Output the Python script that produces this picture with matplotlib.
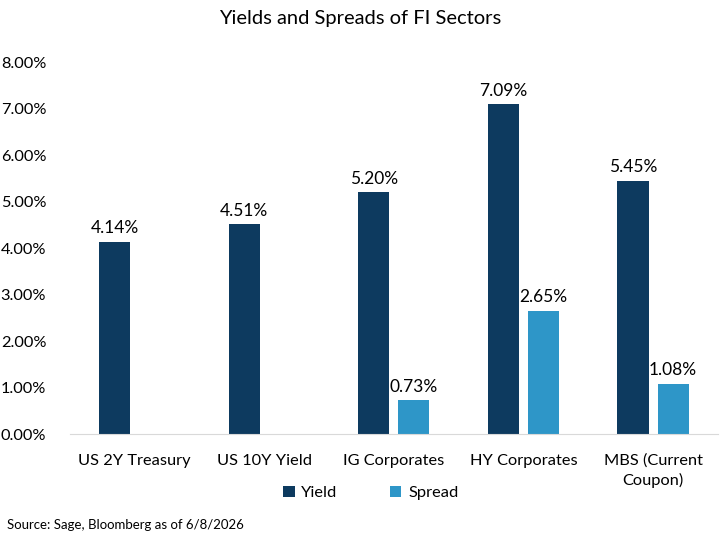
import numpy as np
import matplotlib.pyplot as plt

plt.rcParams['font.family'] = ['Lato', 'DejaVu Sans']

categories = ['US 2Y Treasury', 'US 10Y Yield', 'IG Corporates', 'HY Corporates', 'MBS (Current\nCoupon)']
yields = [4.14, 4.51, 5.20, 7.09, 5.45]
spreads = [np.nan, np.nan, 0.73, 2.65, 1.08]
yticks = [0, 1, 2, 3, 4, 5, 6, 7, 8]

navy = '#0D3A5F'
blue = '#2E96C8'

fig = plt.figure(figsize=(7.2, 5.4), dpi=100)
ax = fig.add_axes([0.097, 0.196, 0.9, 0.689])

x = np.arange(len(categories))
w = 0.24
off = 0.155
b1 = ax.bar(x - off, yields, w, color=navy, label='Yield')
b2 = ax.bar(x + off, spreads, w, color=blue, label='Spread')

for xi, v in zip(x, yields):
    ax.text(xi - off, v + 0.12, f'{v:.2f}%', ha='center', va='bottom', fontsize=12.5)
for xi, v in zip(x, spreads):
    if not np.isnan(v):
        ax.text(xi + off, v + 0.12, f'{v:.2f}%', ha='center', va='bottom', fontsize=12.5)

ax.set_xlim(-0.5, len(categories) - 0.5)
ax.set_ylim(0, 8)
ax.set_yticks(yticks)
ax.set_yticklabels([f'{t:.2f}%' for t in yticks], fontsize=11.8)
ax.set_xticks(x)
ax.set_xticklabels(categories, fontsize=11.8, linespacing=1.45)
ax.tick_params(length=0)
ax.tick_params(axis='x', pad=14)
ax.tick_params(axis='y', pad=17)
for s in ['top', 'right', 'left']:
    ax.spines[s].set_visible(False)
ax.spines['bottom'].set_color('#D9D9D9')

fig.text(0.5, 0.966, 'Yields and Spreads of FI Sectors', ha='center', va='center', fontsize=14.5)
fig.legend(handles=[b1, b2], loc='center', bbox_to_anchor=(0.515, 0.087), ncol=2,
           frameon=False, fontsize=11.8, handlelength=0.7, handleheight=0.7,
           columnspacing=3.2, handletextpad=0.4)
fig.text(0.01, 0.027, 'Source: Sage, Bloomberg as of 6/8/2026', fontsize=9.5, va='center')

fig.savefig('out.png', dpi=100)
